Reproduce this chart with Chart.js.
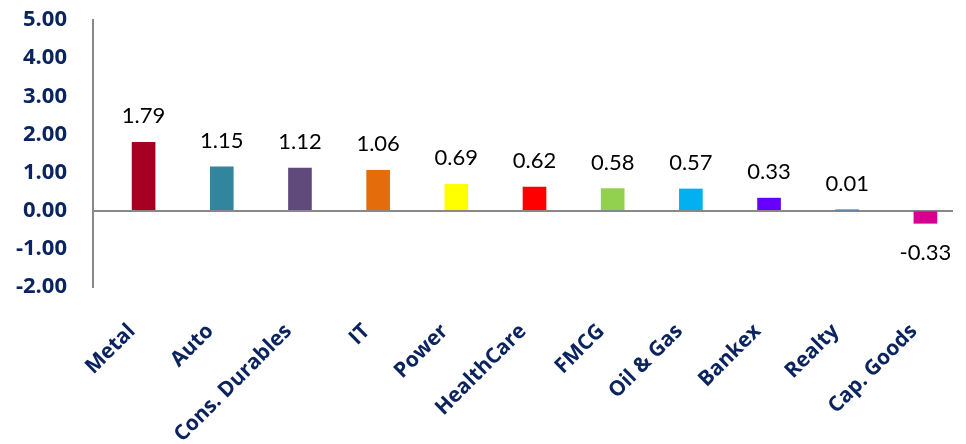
<!DOCTYPE html>
<html>
<head>
<meta charset="utf-8">
<script src="https://cdn.jsdelivr.net/npm/chart.js@4"></script>
<style>
  html, body { margin: 0; padding: 0; background: #fff; }
  #wrap { width: 966px; height: 444px; }
</style>
</head>
<body>
<div id="wrap"><canvas id="sectorChart"></canvas></div>
<script>
const categories = ['Metal', 'Auto', 'Cons. Durables', 'IT', 'Power', 'HealthCare', 'FMCG', 'Oil & Gas', 'Bankex', 'Realty', 'Cap. Goods'];
const changes = [1.79, 1.15, 1.12, 1.06, 0.69, 0.62, 0.58, 0.57, 0.33, 0.01, -0.33];
const barColors = ['#A50021', '#31859C', '#604A7B', '#E46C0A', '#FFFF00', '#FF0000', '#92D050', '#00B0F0', '#6600FF', '#4F81BD', '#D60093'];
const yTicks = [-2, -1, 0, 1, 2, 3, 4, 5];

const navy = '#0B2460';

// value labels above / below each bar
const valueLabels = {
  id: 'valueLabels',
  afterDatasetsDraw(chart) {
    const ctx = chart.ctx;
    const meta = chart.getDatasetMeta(1);
    ctx.save();
    ctx.font = '22px Lato';
    ctx.fillStyle = '#000';
    ctx.textAlign = 'center';
    ctx.textBaseline = 'alphabetic';
    meta.data.forEach((bar, i) => {
      const v = changes[i];
      const y = v >= 0 ? bar.y - 19 : bar.y + 37;
      ctx.fillText(v.toFixed(2), bar.x, y);
    });
    ctx.restore();
  }
};

function drawChart() {
  new Chart(document.getElementById('sectorChart'), {
    type: 'bar',
    data: {
      labels: categories,
      datasets: [{
        label: 'blank',
        data: categories.map(() => null),
        barThickness: 23
      }, {
        label: 'Change %',
        data: changes,
        backgroundColor: barColors,
        barThickness: 23
      }]
    },
    options: {
      responsive: true,
      maintainAspectRatio: false,
      animation: false,
      layout: { padding: { top: 0, right: 13, left: 0, bottom: 0 } },
      plugins: {
        legend: { display: false },
        tooltip: { enabled: false }
      },
      scales: {
        x: {
          grid: { display: false },
          border: { display: false },
          ticks: {
            color: navy,
            font: { family: "'Open Sans'", size: 21, weight: 'bold' },
            minRotation: 45,
            maxRotation: 45,
            padding: 24,
            autoSkip: false
          },
          afterFit: (scale) => { scale.height = 157; }
        },
        y: {
          min: -2,
          max: 5,
          afterBuildTicks: (scale) => { scale.ticks = yTicks.map(v => ({ value: v })); },
          grid: {
            drawTicks: false,
            color: (c) => c.tick && c.tick.value === 0 ? '#888888' : 'rgba(0,0,0,0)',
            lineWidth: 2
          },
          border: { display: true, color: '#888888', width: 2 },
          ticks: {
            color: navy,
            font: { family: "'Open Sans'", size: 22, weight: 'bold' },
            padding: 26,
            callback: (v) => Number(v).toFixed(2)
          },
          afterFit: (scale) => {
            scale.width = 93;
            scale.paddingTop = 20;
            scale.paddingBottom = 0;
          }
        }
      }
    },
    plugins: [valueLabels]
  });
}

Promise.all([
  document.fonts.load("bold 20px 'Open Sans'"),
  document.fonts.load('22px Lato')
]).then(drawChart, drawChart);
</script>
</body>
</html>
